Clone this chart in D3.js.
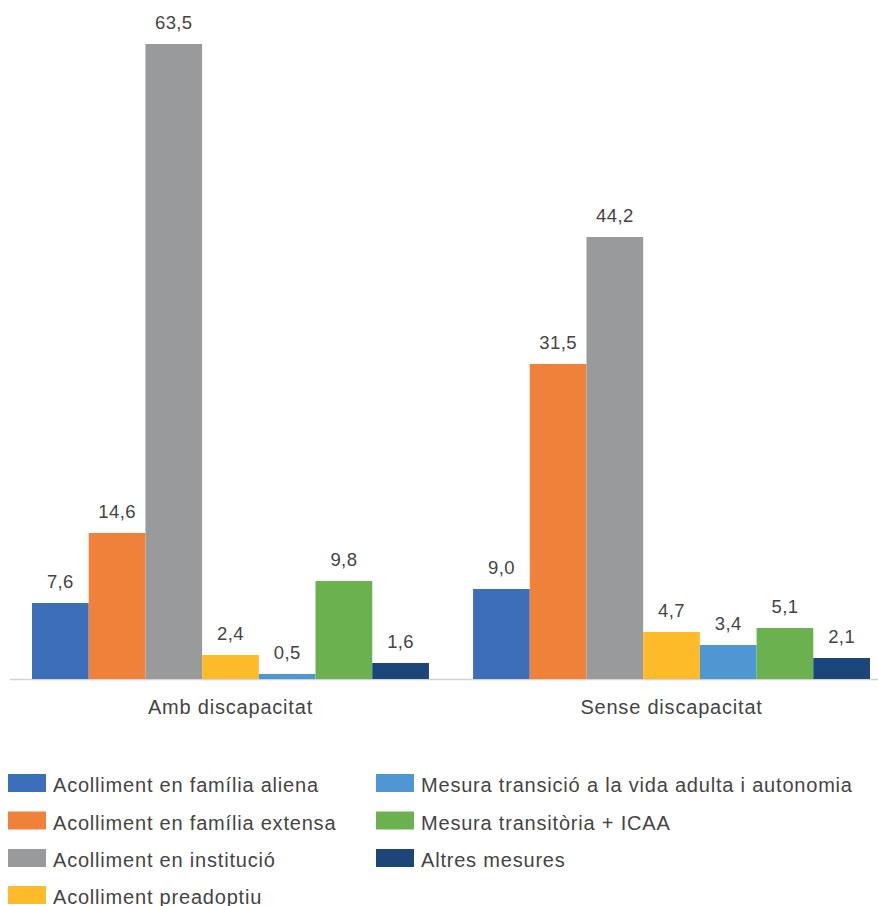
<!DOCTYPE html>
<html>
<head>
<meta charset="utf-8">
<script src="https://cdn.jsdelivr.net/npm/d3@7/dist/d3.min.js"></script>
<style>
  html, body { margin: 0; padding: 0; background: #fff; }
  svg { display: block; }
  text { font-family: "Helvetica Neue", Helvetica, Arial, "Liberation Sans", sans-serif; fill: #444; }
</style>
</head>
<body>
<div id="chart"></div>
<script>
const groups = ["Amb discapacitat", "Sense discapacitat"];
const seriesNames = [
  "Acolliment en família aliena",
  "Acolliment en família extensa",
  "Acolliment en institució",
  "Acolliment preadoptiu",
  "Mesura transició a la vida adulta i autonomia",
  "Mesura transitòria + ICAA",
  "Altres mesures"
];
const ambValues = [7.6, 14.6, 63.5, 2.4, 0.5, 9.8, 1.6];
const senseValues = [9.0, 31.5, 44.2, 4.7, 3.4, 5.1, 2.1];
const colors = ["#3c6fb9", "#f0813b", "#999a9b", "#fdbb2a", "#4e97d2", "#6bb150", "#1c4679"];

const W = 878, H = 906;
const svg = d3.select("#chart").append("svg").attr("width", W).attr("height", H);

const x0 = d3.scaleBand().domain(groups).range([32, 870]).paddingInner(0.1).paddingOuter(0);
const x1 = d3.scaleBand().domain(seriesNames).range([0, x0.bandwidth()]).padding(0);
const y = d3.scaleLinear().domain([0, 63.5]).range([679, 44]);
const color = d3.scaleOrdinal().domain(seriesNames).range(colors);

const data = groups.map((g, gi) => ({
  group: g,
  values: seriesNames.map((s, si) => ({ series: s, value: (gi === 0 ? ambValues : senseValues)[si] }))
}));

const fmt = v => d3.format(".1f")(v).replace(".", ",");

// baseline
svg.append("line")
  .attr("x1", 10).attr("x2", W).attr("y1", y(0) + 0.5).attr("y2", y(0) + 0.5)
  .attr("stroke", "#d4d4d4").attr("stroke-width", 1.5);

const g = svg.selectAll("g.grp").data(data).join("g")
  .attr("class", "grp")
  .attr("transform", d => `translate(${x0(d.group)},0)`);

g.selectAll("rect").data(d => d.values).join("rect")
  .attr("x", d => x1(d.series))
  .attr("width", x1.bandwidth())
  .attr("y", d => y(d.value))
  .attr("height", d => y(0) - y(d.value))
  .attr("fill", d => color(d.series));

g.selectAll("text.val").data(d => d.values).join("text")
  .attr("class", "val")
  .attr("x", d => x1(d.series) + x1.bandwidth() / 2)
  .attr("y", d => y(d.value) - 15)
  .attr("text-anchor", "middle")
  .style("font-size", "18.5px")
  .style("letter-spacing", "0.4px")
  .text(d => fmt(d.value));

// category labels
svg.selectAll("text.cat").data(groups).join("text")
  .attr("class", "cat")
  .attr("x", d => x0(d) + x0.bandwidth() / 2)
  .attr("y", 714)
  .attr("text-anchor", "middle")
  .style("font-size", "20px")
  .style("letter-spacing", "0.8px")
  .text(d => d);

// legend
const legendCols = [[0, 1, 2, 3], [4, 5, 6]];
const colX = [8, 376];
const rowY = [774, 811.5, 849, 886];
legendCols.forEach((col, ci) => {
  col.forEach((si, ri) => {
    const lg = svg.append("g").attr("transform", `translate(${colX[ci]},${rowY[ri]})`);
    lg.append("rect").attr("width", 38).attr("height", 18).attr("fill", color(seriesNames[si]));
    lg.append("text").attr("x", 45).attr("y", 18)
      .style("font-size", "20px")
      .style("letter-spacing", "0.8px")
      .text(seriesNames[si]);
  });
});
</script>
</body>
</html>
